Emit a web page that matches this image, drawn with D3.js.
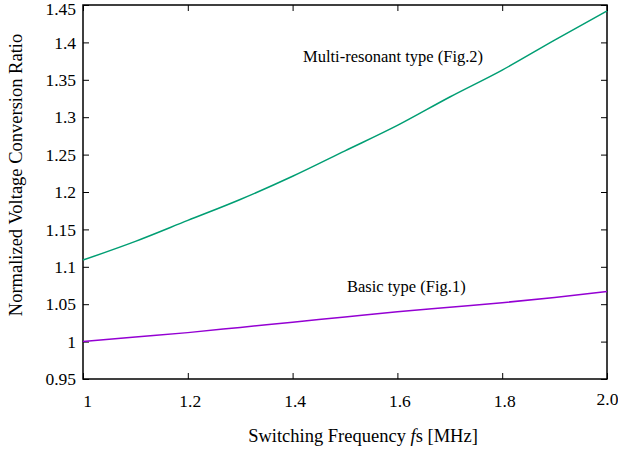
<!DOCTYPE html>
<html>
<head>
<meta charset="utf-8">
<script src="https://cdn.jsdelivr.net/npm/d3@7"></script>
<style>
  body { margin: 0; background: #fff; }
</style>
</head>
<body>
<div id="chart"></div>
<script>
// switching frequency [MHz]
let freqs = [1.0, 1.1, 1.2, 1.3, 1.4, 1.5, 1.6, 1.7, 1.8, 1.9, 2.0];
// normalized voltage conversion ratio
let multiResonant = [1.109, 1.134, 1.162, 1.190, 1.221, 1.255, 1.289, 1.327, 1.363, 1.403, 1.442];
let basicType = [1.000, 1.006, 1.012, 1.019, 1.026, 1.033, 1.040, 1.046, 1.052, 1.059, 1.067];

let xTicks = [1, 1.2, 1.4, 1.6, 1.8, 2.0];
let xTickLabels = ["1", "1.2", "1.4", "1.6", "1.8", "2.0"];
let yTicks = [0.95, 1, 1.05, 1.1, 1.15, 1.2, 1.25, 1.3, 1.35, 1.4, 1.45];
let yTickLabels = ["0.95", "1", "1.05", "1.1", "1.15", "1.2", "1.25", "1.3", "1.35", "1.4", "1.45"];

let serif = "'Liberation Serif', 'Times New Roman', Times, serif";

let margin = { top: 5, right: 11, bottom: 71, left: 83 };
let fullW = 618, fullH = 450;
let width = fullW - margin.left - margin.right;
let height = fullH - margin.top - margin.bottom;

let svg = d3.select('#chart').append('svg')
    .attr('width', fullW)
    .attr('height', fullH)
    .style('font-family', serif);

let g = svg.append('g')
    .attr('transform', 'translate(' + margin.left + ',' + margin.top + ')');

let xScale = d3.scaleLinear().domain([1, 2]).range([0, width]);
let yScale = d3.scaleLinear().domain([0.95, 1.45]).range([height, 0]);

// axes with inward ticks (gnuplot style, mirrored)
let bottomAxis = d3.axisBottom(xScale).tickValues(xTicks)
    .tickSize(-6).tickPadding(14)
    .tickFormat(function (d, i) { return xTickLabels[i]; });
let topAxis = d3.axisTop(xScale).tickValues(xTicks).tickSize(-6).tickFormat('');
let leftAxis = d3.axisLeft(yScale).tickValues(yTicks)
    .tickSize(-6).tickPadding(10)
    .tickFormat(function (d, i) { return yTickLabels[i]; });
let rightAxis = d3.axisRight(yScale).tickValues(yTicks).tickSize(-6).tickFormat('');

let gx = g.append('g').attr('transform', 'translate(0,' + height + ')').call(bottomAxis);
let gxt = g.append('g').call(topAxis);
let gy = g.append('g').call(leftAxis);
let gyr = g.append('g').attr('transform', 'translate(' + width + ',0)').call(rightAxis);

[gx, gxt, gy, gyr].forEach(function (a) {
    a.attr('font-family', null).attr('font-size', null);
    a.select('.domain').remove();
    a.selectAll('line').attr('stroke', '#000').attr('stroke-width', 1);
    a.selectAll('text')
        .style('font-family', serif)
        .style('font-size', '17.5px')
        .attr('fill', '#000');
});
gx.selectAll('text').attr('dy', '0.71em')
    .attr('dx', function (d, i) { return i === 0 ? 4 : (i === xTicks.length - 1 ? 0 : 2); })
    .attr('y', function (d, i) { return i === xTicks.length - 1 ? 14 : 16; });
gy.selectAll('text').attr('x', -7)
    .attr('dy', function (d, i) { return i === yTicks.length - 1 ? '0.52em' : '0.32em'; });

// border
g.append('rect')
    .attr('x', 0).attr('y', 0)
    .attr('width', width).attr('height', height)
    .attr('fill', 'none')
    .attr('stroke', '#000')
    .attr('stroke-width', 1.5);

let line = d3.line()
    .x(function (d) { return xScale(d[0]); })
    .y(function (d) { return yScale(d[1]); })
    .curve(d3.curveMonotoneX);

g.append('path')
    .datum(d3.zip(freqs, multiResonant))
    .attr('fill', 'none')
    .attr('stroke', '#009e73')
    .attr('stroke-width', 1.5)
    .attr('d', line);

g.append('path')
    .datum(d3.zip(freqs, basicType))
    .attr('fill', 'none')
    .attr('stroke', '#9400d3')
    .attr('stroke-width', 1.5)
    .attr('d', line);

// curve labels
svg.append('text')
    .attr('x', 303).attr('y', 62)
    .style('font-family', serif)
    .style('font-size', '16.5px')
    .text('Multi-resonant type (Fig.2)');

svg.append('text')
    .attr('x', 347).attr('y', 292)
    .style('font-family', serif)
    .style('font-size', '16.5px')
    .text('Basic type (Fig.1)');

// axis titles
let xt = svg.append('text')
    .attr('x', 363).attr('y', 442)
    .attr('text-anchor', 'middle')
    .style('font-family', serif)
    .style('font-size', '18.5px');
xt.append('tspan').text('Switching Frequency ');
xt.append('tspan').style('font-style', 'italic').text('f');
xt.append('tspan').text('s [MHz]');

svg.append('text')
    .attr('transform', 'translate(22,175) rotate(-90)')
    .attr('text-anchor', 'middle')
    .style('font-family', serif)
    .style('font-size', '18.5px')
    .text('Normalized Voltage Conversion Ratio');
</script>
</body>
</html>
